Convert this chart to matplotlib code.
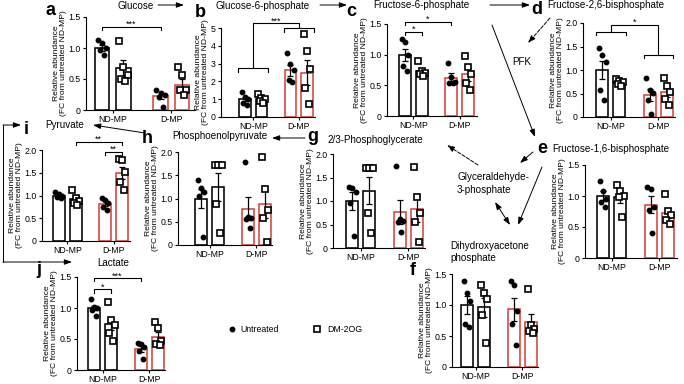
import numpy as np
import matplotlib
matplotlib.use('Agg')
import matplotlib.pyplot as plt
from matplotlib.patches import FancyArrowPatch
from matplotlib.lines import Line2D

plt.rcParams['font.family'] = ['Liberation Sans', 'DejaVu Sans']

W, H = 684, 384
RED = '#d8423e'
YLABEL = 'Relative abundance\n(FC from untreated ND-MP)'

groups = ['ND-MP', 'D-MP']

# bar order: ND-MP untreated, ND-MP DM-2OG, D-MP untreated, D-MP DM-2OG
# a - Glucose
glucose_mean = [1.00, 0.67, 0.22, 0.41]
glucose_sem = [0.05, 0.13, 0.04, 0.09]
glucose_untreated = [[1.13, 1.08, 1.00, 0.97, 0.88], [0.32, 0.27, 0.24, 0.21, 0.05]]
glucose_dm2og = [[1.12, 0.70, 0.57, 0.50, 0.46], [0.70, 0.56, 0.32, 0.32, 0.25]]

# b - Glucose-6-phosphate
g6p_mean = [1.00, 1.00, 2.63, 2.50]
g6p_sem = [0.10, 0.08, 0.30, 0.70]
g6p_untreated = [[1.40, 1.15, 1.00, 0.80, 0.70], [3.60, 2.95, 2.65, 2.10, 1.95]]
g6p_dm2og = [[1.28, 1.05, 1.00, 0.88, 0.80], [4.65, 3.70, 2.70, 1.65, 0.73]]

# c - Fructose-6-phosphate
f6p_mean = [1.00, 0.73, 0.62, 0.68]
f6p_sem = [0.10, 0.04, 0.08, 0.11]
f6p_untreated = [[1.25, 1.20, 1.00, 0.82, 0.74], [0.87, 0.63, 0.56, 0.53, 0.53]]
f6p_dm2og = [[0.90, 0.74, 0.70, 0.68, 0.65], [0.98, 0.80, 0.68, 0.53, 0.42]]

# d - Fructose-2,6-bisphosphate
f26bp_mean = [1.00, 0.73, 0.47, 0.53]
f26bp_sem = [0.20, 0.03, 0.13, 0.10]
f26bp_untreated = [[1.46, 1.32, 1.18, 0.57, 0.36], [0.83, 0.58, 0.52, 0.37, 0.06]]
f26bp_dm2og = [[0.80, 0.77, 0.74, 0.70, 0.66], [0.82, 0.66, 0.53, 0.38, 0.25]]

# e - Fructose-1,6-bisphosphate
f16bp_mean = [1.00, 0.98, 0.86, 0.73]
f16bp_sem = [0.08, 0.09, 0.14, 0.08]
f16bp_untreated = [[1.25, 1.08, 0.95, 0.90, 0.82], [1.14, 1.12, 0.83, 0.77, 0.41]]
f16bp_dm2og = [[1.17, 1.08, 1.00, 0.98, 0.66], [1.03, 0.76, 0.70, 0.62, 0.55]]

# f - Dihydroxyacetone phosphate
dhap_mean = [1.00, 0.96, 0.93, 0.72]
dhap_sem = [0.15, 0.16, 0.19, 0.14]
dhap_untreated = [[1.38, 1.20, 1.07, 0.70, 0.65], [1.38, 1.33, 0.90, 0.70, 0.36]]
dhap_dm2og = [[1.33, 1.20, 1.09, 0.84, 0.39], [1.26, 0.68, 0.62, 0.58, 0.55]]

# g - 2/3-Phosphoglycerate
pg_mean = [1.00, 1.22, 0.77, 0.83]
pg_sem = [0.20, 0.29, 0.26, 0.28]
pg_untreated = [[1.30, 1.28, 1.20, 0.96, 0.26], [1.75, 0.62, 0.58, 0.55, 0.35]]
pg_dm2og = [[1.70, 1.70, 1.70, 0.74, 0.31], [1.73, 1.09, 0.74, 0.55, 0.13]]

# h - Phosphoenolpyruvate
pep_mean = [1.00, 1.25, 0.78, 0.88]
pep_sem = [0.20, 0.30, 0.25, 0.30]
pep_untreated = [[1.40, 1.22, 1.15, 1.05, 0.18], [1.78, 0.60, 0.57, 0.55, 0.36]]
pep_dm2og = [[1.72, 1.72, 1.72, 0.89, 0.26], [1.89, 1.21, 0.76, 0.57, 0.07]]

# i - Pyruvate
pyr_mean = [1.00, 0.92, 0.82, 1.50]
pyr_sem = [0.03, 0.06, 0.05, 0.13]
pyr_untreated = [[1.08, 1.03, 1.00, 0.96, 0.94], [0.94, 0.91, 0.84, 0.74, 0.69]]
pyr_dm2og = [[1.13, 0.95, 0.88, 0.84, 0.80], [1.80, 1.77, 1.52, 1.30, 1.13]]

# j - Lactate
lac_mean = [1.00, 0.74, 0.34, 0.54]
lac_sem = [0.04, 0.10, 0.05, 0.07]
lac_untreated = [[1.15, 1.02, 1.00, 0.97, 0.87], [0.44, 0.42, 0.37, 0.30, 0.18]]
lac_dm2og = [[1.10, 0.80, 0.72, 0.59, 0.47], [0.78, 0.68, 0.47, 0.42, 0.40]]

fig = plt.figure(figsize=(W / 100, H / 100), dpi=100)

pos = np.array([0, 1, 2.75, 3.75])
jitter = np.array([-0.2, 0.0, 0.2, -0.1, 0.1])


def fpt(x, y):
    # pixel -> figure fraction
    return (x / W, 1 - y / H)


def draw_panel(rect, xlim, ymax, ystep, mean, sem, untr, dm):
    x0, x1, ytop, ybot = rect
    ax = fig.add_axes([x0 / W, 1 - ybot / H, (x1 - x0) / W, (ybot - ytop) / H])
    ax.bar(pos, mean, width=0.7, color='white', edgecolor=['black', 'black', RED, RED],
           linewidth=1.15, zorder=1)
    ax.errorbar(pos, mean, yerr=sem, fmt='none', ecolor='black', elinewidth=0.9,
                capsize=2.3, capthick=0.9, zorder=3)
    for g in range(2):
        ax.plot(pos[2 * g] + jitter[:len(untr[g])], untr[g], 'o', ms=3.2, color='black',
                zorder=4, clip_on=False)
        ax.plot(pos[2 * g + 1] + jitter[:len(dm[g])], dm[g], 's', ms=3.8, mfc='white',
                mec='black', mew=1.2, zorder=4, clip_on=False)
    ticks = np.arange(0, ymax + 1e-9, ystep)
    ax.set_ylim(0, ymax)
    ax.set_yticks(ticks)
    if ystep >= 1:
        ax.set_yticklabels([f'{t:.0f}' for t in ticks])
    else:
        ax.set_yticklabels(['0'] + [f'{t:.1f}' for t in ticks[1:]])
    ax.set_xlim(xlim)
    ax.set_xticks([0.5, 3.25])
    ax.set_xticklabels(groups)
    ax.tick_params(labelsize=6.3, length=2.5, width=0.8, pad=1.2)
    for s in ['top', 'right']:
        ax.spines[s].set_visible(False)
    for s in ['left', 'bottom']:
        ax.spines[s].set_linewidth(0.8)
    ax.set_ylabel(YLABEL, fontsize=6.1, labelpad=1.2, linespacing=1.05)
    return ax


def bracket(ax, x1, x2, y, h, text):
    ax.plot([x1, x1, x2, x2], [y - h, y, y, y - h], color='black', lw=0.8, clip_on=False)
    ax.text((x1 + x2) / 2, y, text, ha='center', va='baseline', fontsize=6.5)


# panels (pixel rect: left, right, top, bottom)
ax_a = draw_panel((86, 195, 17, 110), (-0.75, 4.36), 1.5, 0.5,
                  glucose_mean, glucose_sem, glucose_untreated, glucose_dm2og)
bracket(ax_a, 0, 2.75, 1.34, 0.05, '***')

ax_b = draw_panel((221, 315, 28, 117), (-1.45, 4.24), 5, 1,
                  g6p_mean, g6p_sem, g6p_untreated, g6p_dm2og)
ax_b.plot([-0.4, -0.4, 1.4, 1.4], [2.53, 2.73, 2.73, 2.53], color='black', lw=0.8, clip_on=False)
ax_b.plot([2.35, 2.35, 4.15, 4.15], [4.78, 4.98, 4.98, 4.78], color='black', lw=0.8, clip_on=False)
ax_b.plot([0.5, 0.5, 3.25, 3.25], [2.73, 5.26, 5.26, 4.98], color='black', lw=0.8, clip_on=False)
ax_b.text(1.875, 5.26, '***', ha='center', va='baseline', fontsize=6.5)

ax_c = draw_panel((387, 477, 24, 116), (-1.07, 4.29), 1.5, 0.5,
                  f6p_mean, f6p_sem, f6p_untreated, f6p_dm2og)
bracket(ax_c, 0, 1, 1.375, 0.05, '*')
bracket(ax_c, 0, 2.75, 1.54, 0.05, '*')

ax_d = draw_panel((583, 675, 23, 117), (-1.1, 4.21), 2.0, 0.5,
                  f26bp_mean, f26bp_sem, f26bp_untreated, f26bp_dm2og)
ax_d.plot([-0.36, -0.36, 1.36, 1.36], [1.74, 1.81, 1.81, 1.74], color='black', lw=0.8, clip_on=False)
ax_d.plot([2.4, 2.4, 4.1, 4.1], [1.25, 1.32, 1.32, 1.25], color='black', lw=0.8, clip_on=False)
ax_d.plot([0.5, 0.5, 3.25, 3.25], [1.81, 1.96, 1.96, 1.32], color='black', lw=0.8, clip_on=False)
ax_d.text(1.875, 1.96, '*', ha='center', va='baseline', fontsize=6.5)

ax_e = draw_panel((585, 677, 165, 258), (-1.04, 4.27), 1.5, 0.5,
                  f16bp_mean, f16bp_sem, f16bp_untreated, f16bp_dm2og)

ax_f = draw_panel((452, 538, 274, 367), (-0.88, 4.16), 1.5, 0.5,
                  dhap_mean, dhap_sem, dhap_untreated, dhap_dm2og)

ax_g = draw_panel((333, 425, 154, 248), (-1.1, 4.21), 2.0, 0.5,
                  pg_mean, pg_sem, pg_untreated, pg_dm2og)

ax_h = draw_panel((178, 272, 152, 245), (-1.35, 4.16), 2.0, 0.5,
                  pep_mean, pep_sem, pep_untreated, pep_dm2og)

ax_i = draw_panel((42, 130, 150, 241), (-1.0, 4.23), 2.0, 0.5,
                  pyr_mean, pyr_sem, pyr_untreated, pyr_dm2og)
bracket(ax_i, 1, 3.75, 2.18, 0.07, '**')
bracket(ax_i, 2.75, 3.75, 1.96, 0.07, '**')

ax_j = draw_panel((77, 165, 277, 370), (-1.0, 4.16), 1.5, 0.5,
                  lac_mean, lac_sem, lac_untreated, lac_dm2og)
bracket(ax_j, 0, 1, 1.30, 0.05, '*')
bracket(ax_j, 0, 2.75, 1.48, 0.05, '***')

# panel letters
letters = [('a', 46, 15), ('b', 195, 17), ('c', 346, 16), ('d', 531, 14), ('e', 537, 153),
           ('f', 410, 275), ('g', 307, 141), ('h', 142, 143), ('i', 24, 134), ('j', 36, 274)]
for lt, x, y in letters:
    fig.text(*fpt(x, y), lt, fontsize=13, fontweight='bold', va='baseline', ha='left')

# titles and pathway labels
labels = [('Glucose', 117, 6), ('Glucose-6-phosphate', 215, 6), ('Fructose-6-phosphate', 373, 5),
          ('Fructose-2,6-bisphosphate', 547, 5), ('Fructose-1,6-bisphosphate', 552, 149),
          ('2/3-Phosphoglycerate', 328, 140), ('Phosphoenolpyruvate', 172, 136),
          ('Pyruvate', 45, 125), ('Lactate', 97, 263), ('PFK', 512, 62),
          ('Glyceraldehyde-', 457, 177), ('3-phosphate', 457, 190),
          ('Dihydroxyacetone', 450, 246), ('phosphate', 450, 258)]
for txt, x, y in labels:
    fig.text(*fpt(x, y), txt, fontsize=7.1, va='center', ha='left')


def arrow(p0, p1, style='-|>', ls='-'):
    fig.add_artist(FancyArrowPatch(fpt(*p0), fpt(*p1), transform=fig.transFigure,
                                   arrowstyle=style + ',head_length=0.45,head_width=0.16',
                                   mutation_scale=10, lw=0.7, color='black', linestyle=ls,
                                   shrinkA=0, shrinkB=0))


arrow((158, 5), (184, 5))
arrow((320, 5), (347, 5))
arrow((490, 5), (530, 5))
arrow((492, 25), (535, 137))
arrow((550, 18), (528, 43), ls='--')
arrow((533, 152), (520, 163))
arrow((542, 167), (518, 225))
arrow((495, 202), (510, 225), style='<|-|>')
arrow((478, 165), (447, 145), ls='--')
arrow((305, 138), (272, 138))
arrow((145, 133), (93, 125))

# pyruvate <-> lactate elbow
fig.add_artist(Line2D([3 / W, 3 / W], [1 - 125 / H, 1 - 262 / H], transform=fig.transFigure,
                      color='black', lw=0.7))
arrow((3, 125), (21, 125))
arrow((3, 262), (72, 262))

# legend
fig.add_artist(Line2D([232 / W], [1 - 329 / H], marker='o', ms=3.2, color='black',
                      transform=fig.transFigure))
fig.text(*fpt(240, 329), 'Untreated', fontsize=6.3, va='center')
fig.add_artist(Line2D([317 / W], [1 - 329 / H], marker='s', ms=3.8, mfc='white', mec='black',
                      mew=1.2, transform=fig.transFigure))
fig.text(*fpt(327, 329), 'DM-2OG', fontsize=6.3, va='center')

fig.savefig('out.png', dpi=100)
